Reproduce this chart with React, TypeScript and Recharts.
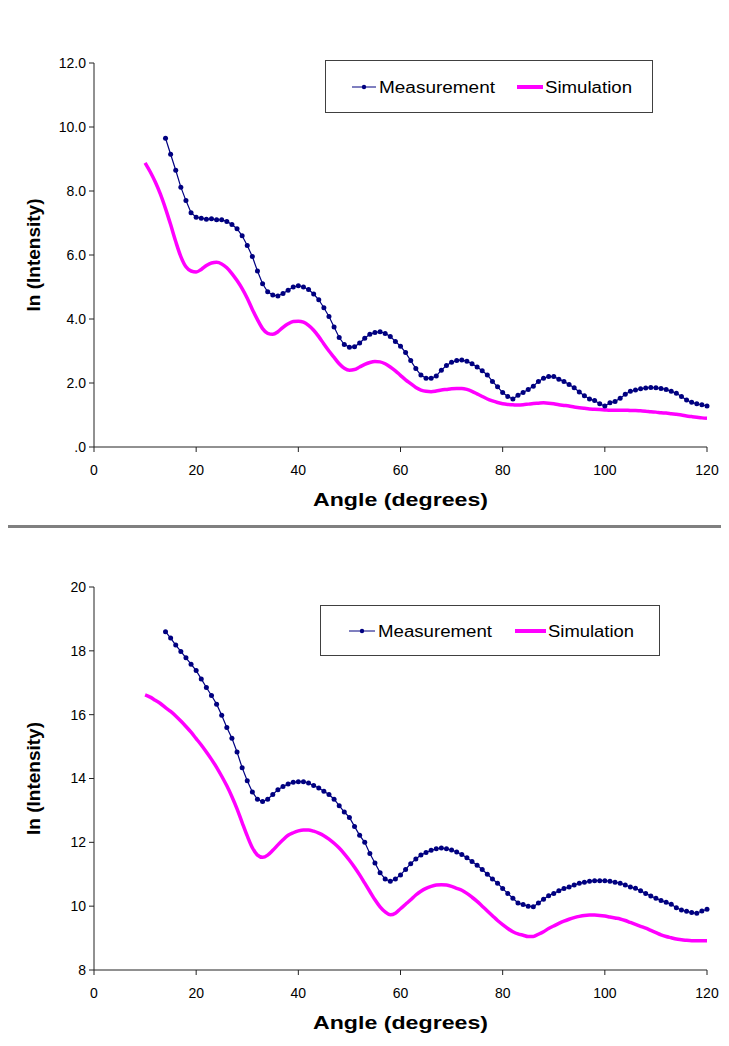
import React from 'react';
import { LineChart, Line, XAxis, YAxis, Legend, Label } from 'recharts';

const NAVY = '#000080';
const MAGENTA = '#ff00ff';
const FONT = '"Liberation Sans", Arial, sans-serif';

// angles in degrees (x categories)
const ANGLES = [
  10, 11, 12, 13, 14, 15, 16, 17, 18, 19, 20, 21, 22, 23, 24, 25, 26, 27, 28, 29,
  30, 31, 32, 33, 34, 35, 36, 37, 38, 39, 40, 41, 42, 43, 44, 45, 46, 47, 48, 49,
  50, 51, 52, 53, 54, 55, 56, 57, 58, 59, 60, 61, 62, 63, 64, 65, 66, 67, 68, 69,
  70, 71, 72, 73, 74, 75, 76, 77, 78, 79, 80, 81, 82, 83, 84, 85, 86, 87, 88, 89,
  90, 91, 92, 93, 94, 95, 96, 97, 98, 99, 100, 101, 102, 103, 104, 105, 106, 107, 108, 109,
  110, 111, 112, 113, 114, 115, 116, 117, 118, 119, 120,
];

// top chart
const MEAS_A = [
  null, null, null, null, 9.65, 9.15, 8.65, 8.12, 7.7, 7.32, 7.18, 7.15, 7.12, 7.13, 7.1, 7.1, 7.05, 6.95, 6.82, 6.6,
  6.3, 5.95, 5.5, 5.1, 4.85, 4.75, 4.72, 4.8, 4.9, 5.0, 5.04, 5.0, 4.92, 4.78, 4.6, 4.35, 4.08, 3.75, 3.42, 3.2,
  3.12, 3.13, 3.25, 3.4, 3.52, 3.58, 3.6, 3.55, 3.45, 3.3, 3.15, 2.95, 2.7, 2.45, 2.25, 2.15, 2.15, 2.22, 2.4, 2.55,
  2.65, 2.7, 2.72, 2.68, 2.6, 2.5, 2.38, 2.25, 2.05, 1.88, 1.7, 1.58, 1.5, 1.62, 1.7, 1.8, 1.9, 2.05, 2.15, 2.2,
  2.2, 2.12, 2.05, 1.95, 1.85, 1.72, 1.6, 1.5, 1.45, 1.35, 1.28, 1.38, 1.42, 1.52, 1.65, 1.74, 1.78, 1.82, 1.84, 1.86,
  1.85, 1.83, 1.8, 1.74, 1.68, 1.58, 1.47, 1.4, 1.35, 1.32, 1.28,
];
const SIM_A = [
  8.88, 8.6, 8.28, 7.9, 7.45, 6.95, 6.42, 5.95, 5.63, 5.5, 5.47, 5.55, 5.67, 5.75, 5.77, 5.72, 5.6, 5.42, 5.2, 4.95,
  4.65, 4.3, 3.98, 3.7, 3.55, 3.52, 3.6, 3.74, 3.85, 3.92, 3.93, 3.9, 3.8, 3.65, 3.45, 3.22, 3.0, 2.8, 2.6, 2.46,
  2.4, 2.42, 2.5, 2.58, 2.64, 2.67, 2.66, 2.6, 2.5, 2.38, 2.24, 2.1, 1.98, 1.86, 1.78, 1.74, 1.73, 1.75, 1.78, 1.8,
  1.82, 1.83, 1.83, 1.8, 1.74, 1.66, 1.58, 1.5, 1.44, 1.39, 1.35, 1.33, 1.32, 1.31, 1.32, 1.34, 1.36, 1.37, 1.38, 1.37,
  1.35, 1.32, 1.3, 1.28, 1.25, 1.23, 1.21, 1.19, 1.18, 1.17, 1.16, 1.15, 1.15, 1.15, 1.15, 1.14, 1.14, 1.13, 1.12, 1.1,
  1.09, 1.07, 1.06, 1.04, 1.02, 1.0, 0.97, 0.95, 0.93, 0.91, 0.9,
];

// bottom chart
const MEAS_B = [
  null, null, null, null, 18.6, 18.4, 18.18, 17.98, 17.78, 17.58, 17.38, 17.12, 16.85, 16.6, 16.33, 15.98, 15.6, 15.26, 14.83, 14.34,
  13.93, 13.58, 13.35, 13.28, 13.35, 13.5, 13.65, 13.75, 13.83, 13.88, 13.9, 13.9, 13.86, 13.78, 13.7, 13.6, 13.5, 13.35, 13.15, 12.95,
  12.78, 12.5, 12.22, 12.0, 11.65, 11.35, 11.05, 10.85, 10.78, 10.85, 10.98, 11.15, 11.33, 11.48, 11.6, 11.68, 11.75, 11.8, 11.82, 11.8,
  11.76, 11.7, 11.62, 11.52, 11.4, 11.28, 11.15, 11.0, 10.85, 10.72, 10.55, 10.4, 10.25, 10.1, 10.05, 10.0, 9.98, 10.1, 10.22, 10.33,
  10.4, 10.48, 10.55, 10.6, 10.66, 10.72, 10.75, 10.78, 10.8, 10.8, 10.8, 10.78, 10.75, 10.72, 10.66, 10.6, 10.56, 10.48, 10.4, 10.32,
  10.25, 10.18, 10.12, 10.06, 9.95, 9.88, 9.84, 9.8, 9.78, 9.85, 9.9,
];
const SIM_B = [
  16.62, 16.55, 16.45, 16.35, 16.22, 16.1, 15.96, 15.8, 15.63, 15.45, 15.25, 15.05, 14.83, 14.6, 14.35, 14.07, 13.77, 13.43, 13.05, 12.62,
  12.2, 11.83, 11.6, 11.53, 11.6, 11.75, 11.92, 12.08, 12.22, 12.3, 12.36, 12.39, 12.39, 12.35, 12.29, 12.21, 12.1, 11.97, 11.82, 11.64,
  11.44, 11.22, 10.98, 10.72, 10.46, 10.2, 9.98, 9.82, 9.73, 9.78, 9.92, 10.06, 10.2, 10.35, 10.47, 10.56, 10.62, 10.66, 10.67, 10.66,
  10.62, 10.56, 10.5, 10.4, 10.28, 10.15, 10.0, 9.85, 9.7, 9.55, 9.42, 9.3, 9.2, 9.13, 9.09, 9.05, 9.05, 9.12, 9.2, 9.3,
  9.38, 9.46, 9.53, 9.59, 9.64, 9.68, 9.71, 9.72, 9.72, 9.71, 9.69, 9.66, 9.63, 9.6, 9.55, 9.49, 9.43, 9.37, 9.31, 9.24,
  9.17, 9.1, 9.05, 9.01, 8.97, 8.95, 8.93, 8.92, 8.92, 8.92, 8.92,
];

const X_TICKS = [0, 20, 40, 60, 80, 100, 120];
const Y_TICKS_A = [0, 2, 4, 6, 8, 10, 12];
const Y_TICKS_B = [8, 10, 12, 14, 16, 18, 20];

function buildRows(meas: (number | null)[], sim: number[]) {
  return ANGLES.map((a, i) => ({ angle: a, meas: meas[i], sim: sim[i] }));
}

interface LegendLayout {
  w: number;
  h: number;
  m0: number;
  mText: number;
  mLen: number;
  s0: number;
  s1: number;
  sText: number;
  sLen: number;
  cy: number;
}

function LegendBox({ l }: { l: LegendLayout }) {
  const mid = (l.m0 + l.mText - 3) / 2;
  return (
    <svg width={l.w} height={l.h} style={{ display: 'block' }}>
      <rect x={0.5} y={0.5} width={l.w - 1} height={l.h - 1} fill="#fff" stroke="#404040" />
      <line x1={l.m0} x2={l.mText - 3} y1={l.cy} y2={l.cy} stroke={NAVY} strokeWidth={1} />
      <circle cx={mid} cy={l.cy} r={2.2} fill={NAVY} />
      <text x={l.mText} y={l.cy + 6} fontSize={16} fontFamily={FONT} fill="#000" textLength={l.mLen} lengthAdjust="spacingAndGlyphs">
        Measurement
      </text>
      <line x1={l.s0} x2={l.s1} y1={l.cy} y2={l.cy} stroke={MAGENTA} strokeWidth={4} />
      <text x={l.sText} y={l.cy + 6} fontSize={16} fontFamily={FONT} fill="#000" textLength={l.sLen} lengthAdjust="spacingAndGlyphs">
        Simulation
      </text>
    </svg>
  );
}

function XTitle({ viewBox }: any) {
  const cx = viewBox.x + viewBox.width / 2;
  return (
    <text x={cx} y={viewBox.y + 59} textAnchor="middle" fontSize={19} fontWeight="bold" fontFamily={FONT} fill="#000" textLength={175} lengthAdjust="spacingAndGlyphs">
      Angle (degrees)
    </text>
  );
}

function YTitle({ viewBox }: any) {
  const x = viewBox.x + 6;
  const y = viewBox.y + viewBox.height / 2;
  return (
    <text x={x} y={y} transform={`rotate(-90 ${x} ${y})`} textAnchor="middle" fontSize={19} fontWeight="bold" fontFamily={FONT} fill="#000">
      ln (Intensity)
    </text>
  );
}

interface PanelProps {
  top: number;
  height: number;
  marginTop: number;
  marginBottom: number;
  rows: any[];
  yDomain: [number, number];
  yTicks: number[];
  yFmt: (v: number) => string;
  legendPos: { left: number; top: number };
  legend: LegendLayout;
}

function Panel(p: PanelProps) {
  const tick = { fill: '#000', fontSize: 14, fontFamily: FONT };
  return (
    <div style={{ position: 'absolute', left: 0, top: p.top }}>
      <LineChart
        width={729}
        height={p.height}
        data={p.rows}
        margin={{ top: p.marginTop, right: 22, left: 34, bottom: p.marginBottom }}
      >
        <XAxis
          dataKey="angle"
          type="number"
          domain={[0, 120]}
          ticks={X_TICKS}
          height={30}
          tick={tick}
          tickSize={5}
          tickMargin={13}
          stroke="#222"
        >
          <Label content={<XTitle />} />
        </XAxis>
        <YAxis
          type="number"
          domain={p.yDomain}
          ticks={p.yTicks}
          width={60}
          tick={tick}
          tickSize={5}
          tickMargin={3}
          tickFormatter={p.yFmt}
          stroke="#222"
          allowDataOverflow
        >
          <Label content={<YTitle />} />
        </YAxis>
        <Legend
          layout="horizontal"
          verticalAlign="middle"
          align="center"
          wrapperStyle={{ left: p.legendPos.left, top: p.legendPos.top, width: p.legend.w, height: p.legend.h }}
          content={() => <LegendBox l={p.legend} />}
        />
        <Line
          dataKey="meas"
          name="Measurement"
          type="linear"
          stroke={NAVY}
          strokeWidth={1.2}
          dot={{ r: 2.5, fill: NAVY, stroke: 'none' }}
          activeDot={false}
          isAnimationActive={false}
        />
        <Line
          dataKey="sim"
          name="Simulation"
          type="monotone"
          stroke={MAGENTA}
          strokeWidth={3.5}
          dot={false}
          activeDot={false}
          isAnimationActive={false}
        />
      </LineChart>
    </div>
  );
}

export default function App() {
  const rowsA = buildRows(MEAS_A, SIM_A);
  const rowsB = buildRows(MEAS_B, SIM_B);
  return (
    <div style={{ position: 'relative', width: 729, height: 1046, margin: -8, background: '#fff', fontFamily: FONT }}>
      {/* frames */}
      <div style={{ position: 'absolute', left: 5, top: 5, width: 724, height: 520, borderTop: '1px solid #000', borderLeft: '1px solid #000' }} />
      <div style={{ position: 'absolute', left: 5, top: 525, width: 724, height: 3, background: '#808080' }} />
      <div style={{ position: 'absolute', left: 5, top: 528, width: 1, height: 518, background: '#000' }} />

      <Panel
        top={0}
        height={527}
        marginTop={63}
        marginBottom={50}
        rows={rowsA}
        yDomain={[0, 12]}
        yTicks={Y_TICKS_A}
        yFmt={(v) => (v === 0 ? '.0' : v.toFixed(1))}
        legendPos={{ left: 325, top: 60 }}
        legend={{ w: 328, h: 53, m0: 27, mText: 54, mLen: 116, s0: 192, s1: 218, sText: 220, sLen: 87, cy: 27 }}
      />
      <Panel
        top={528}
        height={518}
        marginTop={59}
        marginBottom={46}
        rows={rowsB}
        yDomain={[8, 20]}
        yTicks={Y_TICKS_B}
        yFmt={(v) => String(v)}
        legendPos={{ left: 320, top: 77 }}
        legend={{ w: 340, h: 51, m0: 29, mText: 58, mLen: 114, s0: 195, s1: 226, sText: 228, sLen: 86, cy: 26 }}
      />
    </div>
  );
}
